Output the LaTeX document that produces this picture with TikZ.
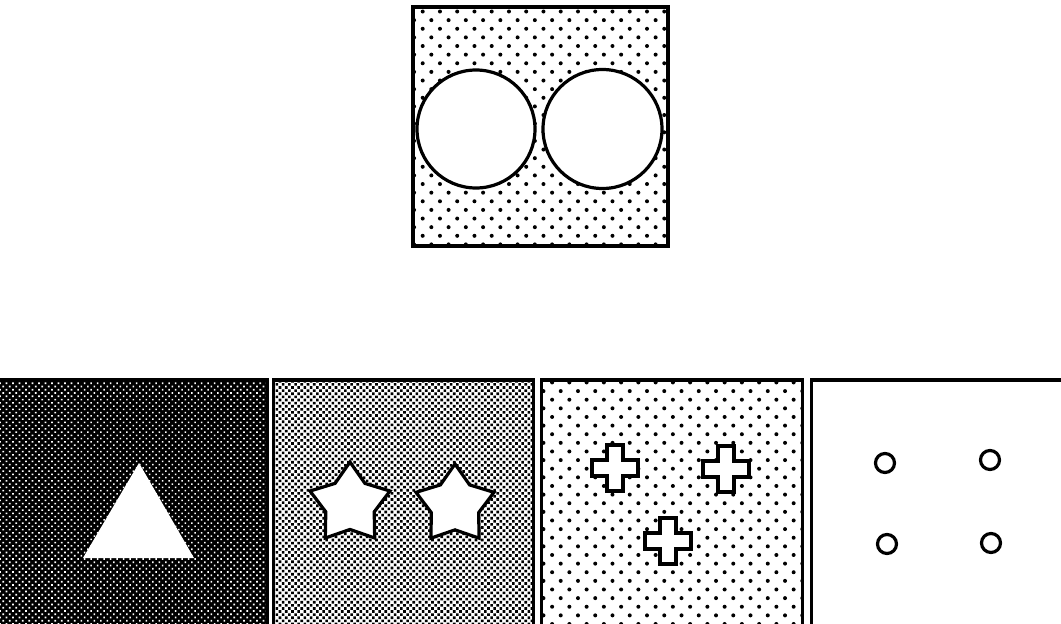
\documentclass[tikz,border=0pt]{standalone}
\usepackage{tikz}
\usetikzlibrary{positioning, shapes.geometric, patterns.meta}

\tikzset{
  panel/.style={draw, line width=3.2pt, inner sep=0pt, rectangle},
  sparsedots/.style={pattern={Dots[radius=2pt, distance=12.2pt, angle=45]}},
  densedots/.style={pattern={Dots[radius=1.85pt, distance=4.4pt, angle=45]}},
  darkdots/.style={preaction={fill=black}, pattern={Dots[radius=1.15pt, distance=4.6pt, angle=45]}, pattern color=white},
  hole/.style={draw, fill=white, line width=3.2pt, inner sep=0pt},
  ring/.style={circle, draw, fill=white, line width=3.2pt, inner sep=0pt, minimum size=19pt},
  plusmark/.pic={
    \draw[line width=3.4pt, fill=white] (-8,-23) -- (8,-23) -- (8,-8) -- (23,-8) -- (23,8) -- (8,8)
      -- (8,23) -- (-8,23) -- (-8,8) -- (-23,8) -- (-23,-8) -- (-8,-8) -- cycle;
  }
}

\begin{document}
\begin{tikzpicture}[x=1pt, y=-1pt]
\useasboundingbox (0,0) rectangle (1061,624);

% top box with the two circles
\node[panel, sparsedots, minimum width=255pt, minimum height=239pt] (top) at (540.5,126.5) {};
\node[hole, circle, minimum size=118pt] (leftcircle) at (476,129) {};
\node[hole, circle, minimum size=119pt] (rightcircle) at (602.5,129) {};

% bottom row
\node[panel, darkdots, minimum width=270pt, minimum height=250pt] (p1) at (132.3,505) {};
\node[panel, densedots, minimum width=260pt, minimum height=250pt] (p2) at (403.5,505) {};
\node[panel, sparsedots, minimum width=261pt, minimum height=250pt] (p3) at (672,505) {};
\node[panel, fill=white, minimum width=264pt, minimum height=250pt] (p4) at (943.5,505) {};

% panel 1: triangle
\fill[white] (83,558) -- (139,463) -- (194,558) -- cycle;

% panel 2: stars
\node[hole, star, star points=5, star point ratio=1.65, minimum size=84pt] (star1) at (350,504) {};
\node[hole, star, star points=5, star point ratio=1.65, minimum size=82pt] (star2) at (455,505) {};

% panel 3: crosses
\pic at (615,468) {plusmark};
\pic at (726,469) {plusmark};
\pic at (668,541) {plusmark};

% panel 4: small rings
\node[ring] (r1) at (885,463) {};
\node[ring] (r2) at (990,460) {};
\node[ring] (r3) at (887,544) {};
\node[ring] (r4) at (991,543) {};
\end{tikzpicture}
\end{document}
